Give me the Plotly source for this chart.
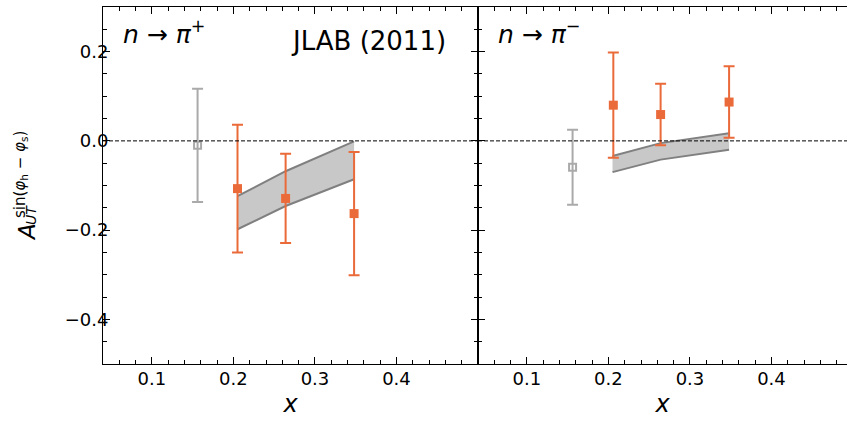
import plotly.graph_objects as go

# ---------------- data ----------------
# n -> pi+ (left panel)
pip_gray_x = [0.156]
pip_gray_y = [-0.010]
pip_gray_err = [0.127]
pip_x = [0.205, 0.264, 0.348]
pip_y = [-0.107, -0.129, -0.163]
pip_err = [0.143, 0.100, 0.138]
pip_band_x = [0.205, 0.264, 0.348]
pip_band_lo = [-0.198, -0.146, -0.086]
pip_band_hi = [-0.124, -0.068, -0.001]

# n -> pi- (right panel)
pim_gray_x = [0.156]
pim_gray_y = [-0.059]
pim_gray_err = [0.084]
pim_x = [0.206, 0.264, 0.348]
pim_y = [0.080, 0.059, 0.087]
pim_err = [0.118, 0.069, 0.080]
pim_band_x = [0.205, 0.264, 0.348]
pim_band_lo = [-0.070, -0.042, -0.020]
pim_band_hi = [-0.034, -0.005, 0.017]

x_ticks = [0.1, 0.2, 0.3, 0.4]
y_ticks = [-0.4, -0.2, 0.0, 0.2]

ORANGE = "#EB6A3A"
GRAY_PT = "#AAAAAA"
BAND_FILL = "#C8C8C8"
BAND_LINE = "#808080"
FONT = "DejaVu Sans"

W, H = 847, 421
L, R, T, B = 103, 0, 7, 57
PW = W - L - R
PH = H - T - B
split = 375 / PW

fig = go.Figure()


def add_panel(xa, ya, gx, gy, gerr, dx, dy, derr, bx, blo, bhi):
    fig.add_trace(go.Scatter(x=bx, y=blo, mode="lines",
                             line=dict(color=BAND_LINE, width=2),
                             xaxis=xa, yaxis=ya, showlegend=False, hoverinfo="skip"))
    fig.add_trace(go.Scatter(x=bx, y=bhi, mode="lines", fill="tonexty",
                             fillcolor=BAND_FILL,
                             line=dict(color=BAND_LINE, width=2),
                             xaxis=xa, yaxis=ya, showlegend=False, hoverinfo="skip"))
    fig.add_trace(go.Scatter(x=gx, y=gy, mode="markers",
                             marker=dict(symbol="square-open", size=7, color=GRAY_PT,
                                         line=dict(width=2, color=GRAY_PT)),
                             error_y=dict(type="data", array=gerr, color=GRAY_PT,
                                          thickness=2, width=5.5),
                             xaxis=xa, yaxis=ya, showlegend=False))
    fig.add_trace(go.Scatter(x=dx, y=dy, mode="markers",
                             marker=dict(symbol="square", size=9, color=ORANGE),
                             error_y=dict(type="data", array=derr, color=ORANGE,
                                          thickness=2, width=5.5),
                             xaxis=xa, yaxis=ya, showlegend=False))


add_panel("x", "y", pip_gray_x, pip_gray_y, pip_gray_err, pip_x, pip_y, pip_err,
          pip_band_x, pip_band_lo, pip_band_hi)
add_panel("x2", "y2", pim_gray_x, pim_gray_y, pim_gray_err, pim_x, pim_y, pim_err,
          pim_band_x, pim_band_lo, pim_band_hi)

span_per_px = 0.46 / 375
axis_common = dict(showline=True, linecolor="black", linewidth=1, showgrid=False,
                   zeroline=False, ticks="inside", ticklen=7, tickwidth=1,
                   tickcolor="black", tickfont=dict(family=FONT, size=18, color="black"))

fig.update_layout(
    width=W, height=H,
    margin=dict(l=L, r=R, t=T, b=B),
    plot_bgcolor="white", paper_bgcolor="white",
    font=dict(family=FONT, color="black"),
    xaxis=dict(domain=[0, split], range=[0.04, 0.5], tickvals=x_ticks,
               ticktext=[f"{v:.1f}" for v in x_ticks], mirror="ticks",
               ticklabelstandoff=-2,
               minor=dict(ticks="inside", dtick=0.02, tick0=0, ticklen=4, tickcolor="black"),
               title=dict(text="<i>x</i>", font=dict(family=FONT, size=24), standoff=7),
               **axis_common),
    xaxis2=dict(domain=[split, 1], range=[0.04, 0.04 + (PW - 375) * span_per_px],
                tickvals=x_ticks, ticktext=[f"{v:.1f}" for v in x_ticks], mirror="ticks",
                anchor="y2", ticklabelstandoff=-2,
                minor=dict(ticks="inside", dtick=0.02, tick0=0, ticklen=4, tickcolor="black"),
                title=dict(text="<i>x</i>", font=dict(family=FONT, size=24), standoff=7),
                **axis_common),
    yaxis=dict(domain=[0, 1], range=[-0.5, 0.3], tickvals=y_ticks,
               ticktext=[f"{v:.1f}".replace("-", "\u2212") for v in y_ticks],
               mirror="ticks", ticklabelstandoff=-10,
               minor=dict(ticks="inside", dtick=0.05, tick0=0, ticklen=4, tickcolor="black"),
               **axis_common),
    yaxis2=dict(domain=[0, 1], range=[-0.5, 0.3], tickvals=y_ticks, anchor="x2",
                matches="y", showticklabels=False, mirror=False,
                minor=dict(ticks="inside", dtick=0.05, tick0=0, ticklen=4, tickcolor="black"),
                **axis_common),
)

# zero reference lines
for xr, yr in (("x domain", "y"), ("x2 domain", "y2")):
    fig.add_shape(type="line", xref=xr, yref=yr, x0=0, x1=1, y0=0, y1=0,
                  line=dict(color="black", width=1, dash="4px,2px"))


def px_x(p):
    return (p - L) / PW


def px_y(p):
    return (H - B - p) / PH


ann = [
    dict(text="<i>n</i> \u2192 <i>\u03c0</i><sup>+</sup>", x=px_x(121), y=px_y(33),
         xanchor="left", yanchor="middle", font=dict(size=25)),
    dict(text="JLAB (2011)", x=px_x(448), y=px_y(41), xanchor="right",
         yanchor="middle", font=dict(size=26)),
    dict(text="<i>n</i> \u2192 <i>\u03c0</i><sup>\u2212</sup>", x=px_x(496), y=px_y(33),
         xanchor="left", yanchor="middle", font=dict(size=25)),
    # y-axis title pieces (A, subscript UT, superscript sin(...))
    dict(text="<i>A</i>", x=px_x(27), y=px_y(232), xanchor="center", yanchor="middle",
         textangle=-90, font=dict(size=23)),
    dict(text="<i>UT</i>", x=px_x(31), y=px_y(215), xanchor="center", yanchor="middle",
         textangle=-90, font=dict(size=14)),
    dict(text="sin(<i>\u03c6</i><sub>h</sub> \u2212 <i>\u03c6</i><sub>s</sub>)",
         x=px_x(20), y=px_y(175), xanchor="center", yanchor="middle",
         textangle=-90, font=dict(size=15)),
]
for a in ann:
    a.update(xref="paper", yref="paper", showarrow=False)
    a["font"] = dict(family=FONT, color="black", **a["font"])
    fig.add_annotation(**a)

fig.write_html("out.html", config={"displayModeBar": False},
               post_script="document.body.style.margin='0';")
